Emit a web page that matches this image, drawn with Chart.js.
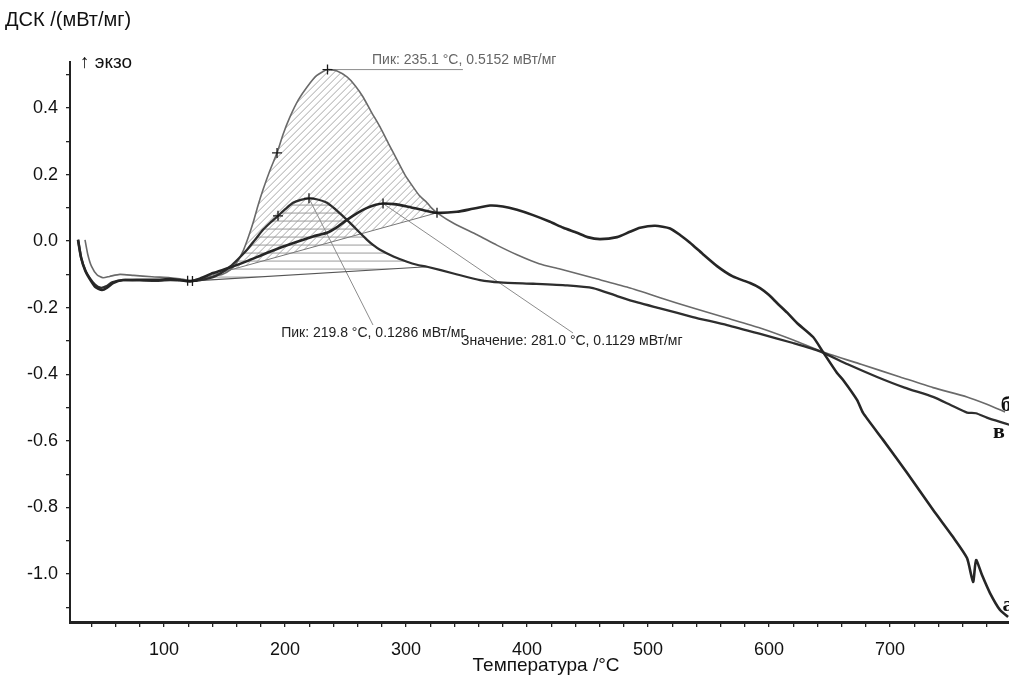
<!DOCTYPE html>
<html><head><meta charset="utf-8">
<script src="https://cdn.jsdelivr.net/npm/chart.js@4/dist/chart.umd.min.js"></script>
<style>html,body{margin:0;padding:0;background:#fff;}canvas{display:block;}</style>
</head><body>
<canvas id="c" width="1009" height="680" style="width:1009px;height:680px"></canvas>
<script>
// ---- Data (temperature °C, DSC mW/mg) ----
const tempA = [28.9,31.5,35,38.8,43,48.8,53,57.9,66.1,80,95,105,113.2,121.5,130,140.5,154,168.6,182,195.9,210,223.1,234.7,243,251.2,260,267.8,275,281,290,300.8,313,325.6,342.1,355,369.4,380,391.7,405,419,430,441.3,450,460.3,474.4,485,493.4,505.8,518.2,527,534.7,545,557,570,584.3,592.6,600,606.6,615,623.1,636.4,644.6,656.2,661.2,672.7,677.7,694.2,714,735.5,752.1,763.6,768.6,771.1,776,782.6,790.9,797.5];
const dscA  = [0.004,-0.05,-0.09,-0.115,-0.137,-0.147,-0.14,-0.126,-0.117,-0.116,-0.116,-0.114,-0.117,-0.121,-0.112,-0.096,-0.08,-0.06,-0.04,-0.02,-0.002,0.014,0.025,0.042,0.064,0.085,0.1,0.109,0.1129,0.111,0.104,0.094,0.085,0.088,0.097,0.107,0.104,0.094,0.078,0.058,0.04,0.025,0.012,0.006,0.012,0.028,0.04,0.046,0.038,0.017,-0.005,-0.038,-0.075,-0.106,-0.126,-0.141,-0.162,-0.186,-0.215,-0.246,-0.288,-0.333,-0.396,-0.417,-0.477,-0.516,-0.597,-0.696,-0.807,-0.889,-0.952,-1.024,-0.958,-1.003,-1.057,-1.108,-1.129];

const tempB = [34.7,37,40,44.6,49.6,55,63.6,75,90,105,113,121.5,130,140.5,148,154.5,160,165.3,169.5,173.6,177.5,181.8,187.5,193.4,198.5,204.1,211,218.2,226,235.1,243,251.2,258,264.5,271,278.5,285.5,292.6,299,305.8,311,317.4,321,325.6,340,358.7,375,391.7,410,427.3,455,482.6,510,537.2,565,592.6,620,644.6,676,708.3,735.5,763.6,780,795];
const dscB  = [0.004,-0.04,-0.075,-0.101,-0.11,-0.106,-0.1,-0.103,-0.107,-0.11,-0.113,-0.118,-0.113,-0.105,-0.1,-0.087,-0.065,-0.03,0.01,0.055,0.105,0.154,0.212,0.265,0.322,0.373,0.424,0.463,0.497,0.5152,0.511,0.493,0.467,0.433,0.39,0.343,0.293,0.244,0.2,0.163,0.137,0.115,0.1,0.085,0.052,0.019,-0.012,-0.041,-0.068,-0.084,-0.111,-0.138,-0.17,-0.201,-0.231,-0.261,-0.297,-0.333,-0.37,-0.408,-0.44,-0.468,-0.49,-0.513];

const tempV = [29,31.5,35,38.8,43,47.5,52,57,66,80,95,105,113.2,121.5,130,140.5,147.5,154.5,161.5,168.6,175,181.8,188,194.2,200.5,206.6,213,219.8,227,234.7,244,253.7,261,267.8,273,278.5,290,300.8,309,317.4,340,361.2,377.7,405,433.1,454.5,474.4,492,509.9,537,565.3,592,619.8,642.1,665,689.3,712,735.5,750,763.6,771,780,790.9,799];
const dscV  = [0.004,-0.05,-0.088,-0.112,-0.131,-0.14,-0.136,-0.124,-0.117,-0.118,-0.119,-0.117,-0.118,-0.12,-0.117,-0.108,-0.095,-0.077,-0.053,-0.026,0.003,0.034,0.056,0.076,0.097,0.115,0.124,0.1286,0.125,0.115,0.088,0.055,0.028,0.004,-0.012,-0.026,-0.047,-0.062,-0.071,-0.077,-0.098,-0.117,-0.124,-0.128,-0.133,-0.141,-0.165,-0.185,-0.202,-0.228,-0.252,-0.278,-0.306,-0.331,-0.37,-0.408,-0.44,-0.468,-0.492,-0.515,-0.517,-0.53,-0.543,-0.552];

// evaluation baselines (start / end points)
const baseBigT = [121.5, 325.6];
const baseBigV = [-0.12, 0.085];
const baseVT = [121.5, 317.4];
const baseVV = [-0.12, -0.077];

// evaluation markers
const markT = [235.1, 193.4, 219.8, 194.2, 281.0, 325.6, 119.5, 123.5];
const markV = [0.5152, 0.265, 0.1286, 0.076, 0.1129, 0.085, -0.119, -0.12];

// annotation texts
const peakTexts = ['Пик: 235.1 °C, 0.5152 мВт/мг','Пик: 219.8 °C, 0.1286 мВт/мг','Значение: 281.0 °C, 0.1129 мВт/мг'];
const curveNames = ['б','в','а'];

// axis ticks
const xTicks = []; for (let t = 40; t <= 780; t += 20) xTicks.push(t);
const yTicks = []; for (let k = -11; k <= 5; k++) yTicks.push(k / 10);

const pts = (t, v) => t.map((x, i) => ({x, y: v[i]}));

const FONT = "'Liberation Sans', Arial, sans-serif";

const annot = {
  id: 'annot',
  beforeDatasetsDraw(chart) {
    const {ctx, scales: {x, y}} = chart;
    const P = (t, v) => [x.getPixelForValue(t), y.getPixelForValue(v)];
    function poly(T, V, t0, t1, b0, b1) {
      const p = [];
      for (let i = 0; i < T.length; i++) if (T[i] >= t0 - 1e-9 && T[i] <= t1 + 1e-9) p.push(P(T[i], V[i]));
      p.push(P(t1, b1)); p.push(P(t0, b0));
      return p;
    }
    function clipTo(p) {
      ctx.beginPath(); ctx.moveTo(p[0][0], p[0][1]);
      for (let i = 1; i < p.length; i++) ctx.lineTo(p[i][0], p[i][1]);
      ctx.closePath(); ctx.clip();
    }
    function bbox(p) {
      let x0 = 1e9, y0 = 1e9, x1 = -1e9, y1 = -1e9;
      p.forEach(([a, b]) => { x0 = Math.min(x0, a); x1 = Math.max(x1, a); y0 = Math.min(y0, b); y1 = Math.max(y1, b); });
      return [x0, y0, x1, y1];
    }
    // big peak: diagonal hatch
    const p1 = poly(tempB, dscB, baseBigT[0], baseBigT[1], baseBigV[0], baseBigV[1]);
    ctx.save(); clipTo(p1);
    const [ax0, ay0, ax1, ay1] = bbox(p1);
    ctx.strokeStyle = '#a8a8a8'; ctx.lineWidth = 1;
    ctx.beginPath();
    for (let s = ax0 + ay0; s <= ax1 + ay1; s += 7) {
      ctx.moveTo(s - ay1, ay1); ctx.lineTo(s - ay0, ay0);
    }
    ctx.stroke(); ctx.restore();
    // peak в: horizontal hatch
    const p2 = poly(tempV, dscV, baseVT[0], baseVT[1], baseVV[0], baseVV[1]);
    ctx.save(); clipTo(p2);
    const [bx0, by0, bx1, by1] = bbox(p2);
    ctx.strokeStyle = '#9a9a9a'; ctx.lineWidth = 1;
    ctx.beginPath();
    for (let yy = by1 - 4; yy >= by0; yy -= 8) { ctx.moveTo(bx0, yy); ctx.lineTo(bx1, yy); }
    ctx.stroke(); ctx.restore();

    // leader lines
    ctx.save();
    ctx.lineWidth = 1;
    ctx.strokeStyle = '#8c8c8c';
    ctx.beginPath();
    let a = P(markT[0], markV[0]), b = P(347, markV[0]);
    ctx.moveTo(a[0], a[1]); ctx.lineTo(b[0], b[1]);
    a = P(markT[2], markV[2]); b = P(272.7, -0.252);
    ctx.moveTo(a[0], a[1]); ctx.lineTo(b[0], b[1]);
    a = P(markT[4], markV[4]); b = P(438.0, -0.276);
    ctx.moveTo(a[0], a[1]); ctx.lineTo(b[0], b[1]);
    ctx.stroke();
    ctx.restore();
  },
  afterDraw(chart) {
    const {ctx, scales: {x, y}, chartArea: ca} = chart;
    const P = (t, v) => [x.getPixelForValue(t), y.getPixelForValue(v)];
    ctx.save();
    ctx.textBaseline = 'middle';
    ctx.fillStyle = '#111';
    ctx.textAlign = 'left';
    ctx.font = '20px ' + FONT;
    ctx.fillText('ДСК /(мВт/мг)', 5, 20);
    ctx.font = '19px ' + FONT;
    ctx.fillText('↑ экзо', ca.left + 10, ca.top + 1);
    ctx.textAlign = 'center';
    ctx.font = '19px ' + FONT;
    ctx.fillText('Температура /°C', 546, 666);
    // peak labels
    ctx.textAlign = 'left';
    ctx.font = '14px ' + FONT;
    ctx.fillStyle = '#666';
    let p = P(271.9, 0.5152);
    ctx.fillText(peakTexts[0], p[0], p[1] - 9);
    ctx.fillStyle = '#222';
    p = P(196.8, -0.277);
    ctx.fillText(peakTexts[1], p[0], p[1]);
    p = P(345.5, -0.301);
    ctx.fillText(peakTexts[2], p[0], p[1]);
    // curve names
    ctx.font = 'bold 22px "Liberation Serif", "DejaVu Serif", serif';
    ctx.fillStyle = '#111';
    p = P(791.5, -0.492); ctx.fillText(curveNames[0], p[0], p[1]);
    p = P(785, -0.573); ctx.fillText(curveNames[1], p[0], p[1]);
    p = P(793, -1.093); ctx.fillText(curveNames[2], p[0], p[1]);
    ctx.restore();
  }
};

const axisColor = '#222';
new Chart(document.getElementById('c'), {
  type: 'line',
  data: {
    datasets: [
      {data: pts(markT, markV), showLine: false, pointStyle: 'cross', pointRadius: 5, pointBorderWidth: 1.3, pointBorderColor: '#1a1a1a', order: 0},
      {data: pts(tempA, dscA), borderColor: '#262626', borderWidth: 2.6, tension: 0.2, order: 2},
      {data: pts(tempV, dscV), borderColor: '#2e2e2e', borderWidth: 2.3, tension: 0.2, order: 3},
      {data: pts(tempB, dscB), borderColor: '#6a6a6a', borderWidth: 1.6, tension: 0.2, order: 4},
      {data: pts(baseBigT, baseBigV), borderColor: '#777', borderWidth: 1, order: 5},
      {data: pts(baseVT, baseVV), borderColor: '#555', borderWidth: 1.2, order: 5}
    ]
  },
  options: {
    responsive: false, animation: false, devicePixelRatio: 1,
    layout: {autoPadding: false, padding: {top: 62, left: 0, right: 0, bottom: 0}},
    plugins: {legend: {display: false}, tooltip: {enabled: false}},
    elements: {point: {radius: 0}},
    scales: {
      x: {
        type: 'linear', min: 22.3, max: 798.3,
        afterFit(s) { s.height = 58; s.paddingLeft = 0; s.paddingRight = 0; },
        afterBuildTicks(s) { s.ticks = xTicks.map(v => ({value: v})); },
        ticks: {autoSkip: false, maxRotation: 0, padding: 12, color: '#111', font: {size: 18, family: FONT},
          callback: v => (v % 100 === 0 ? String(v) : '')},
        grid: {drawOnChartArea: false, drawTicks: true, tickLength: 5, color: axisColor, lineWidth: 1.3},
        border: {display: true, color: axisColor, width: 3}
      },
      y: {
        type: 'linear', min: -1.144, max: 0.538,
        afterFit(s) { s.width = 70; s.paddingTop = 0; s.paddingBottom = 0; },
        afterBuildTicks(s) { s.ticks = yTicks.map(v => ({value: v})); },
        ticks: {autoSkip: false, padding: 8, color: '#111', font: {size: 18, family: FONT},
          callback: v => { const n = Math.round(v * 10); return n % 2 === 0 ? (n / 10).toFixed(1) : ''; }},
        grid: {drawOnChartArea: false, drawTicks: true, tickLength: 4, color: axisColor, lineWidth: 1.3},
        border: {display: true, color: axisColor, width: 2}
      }
    }
  },
  plugins: [annot]
});
</script>
</body></html>
